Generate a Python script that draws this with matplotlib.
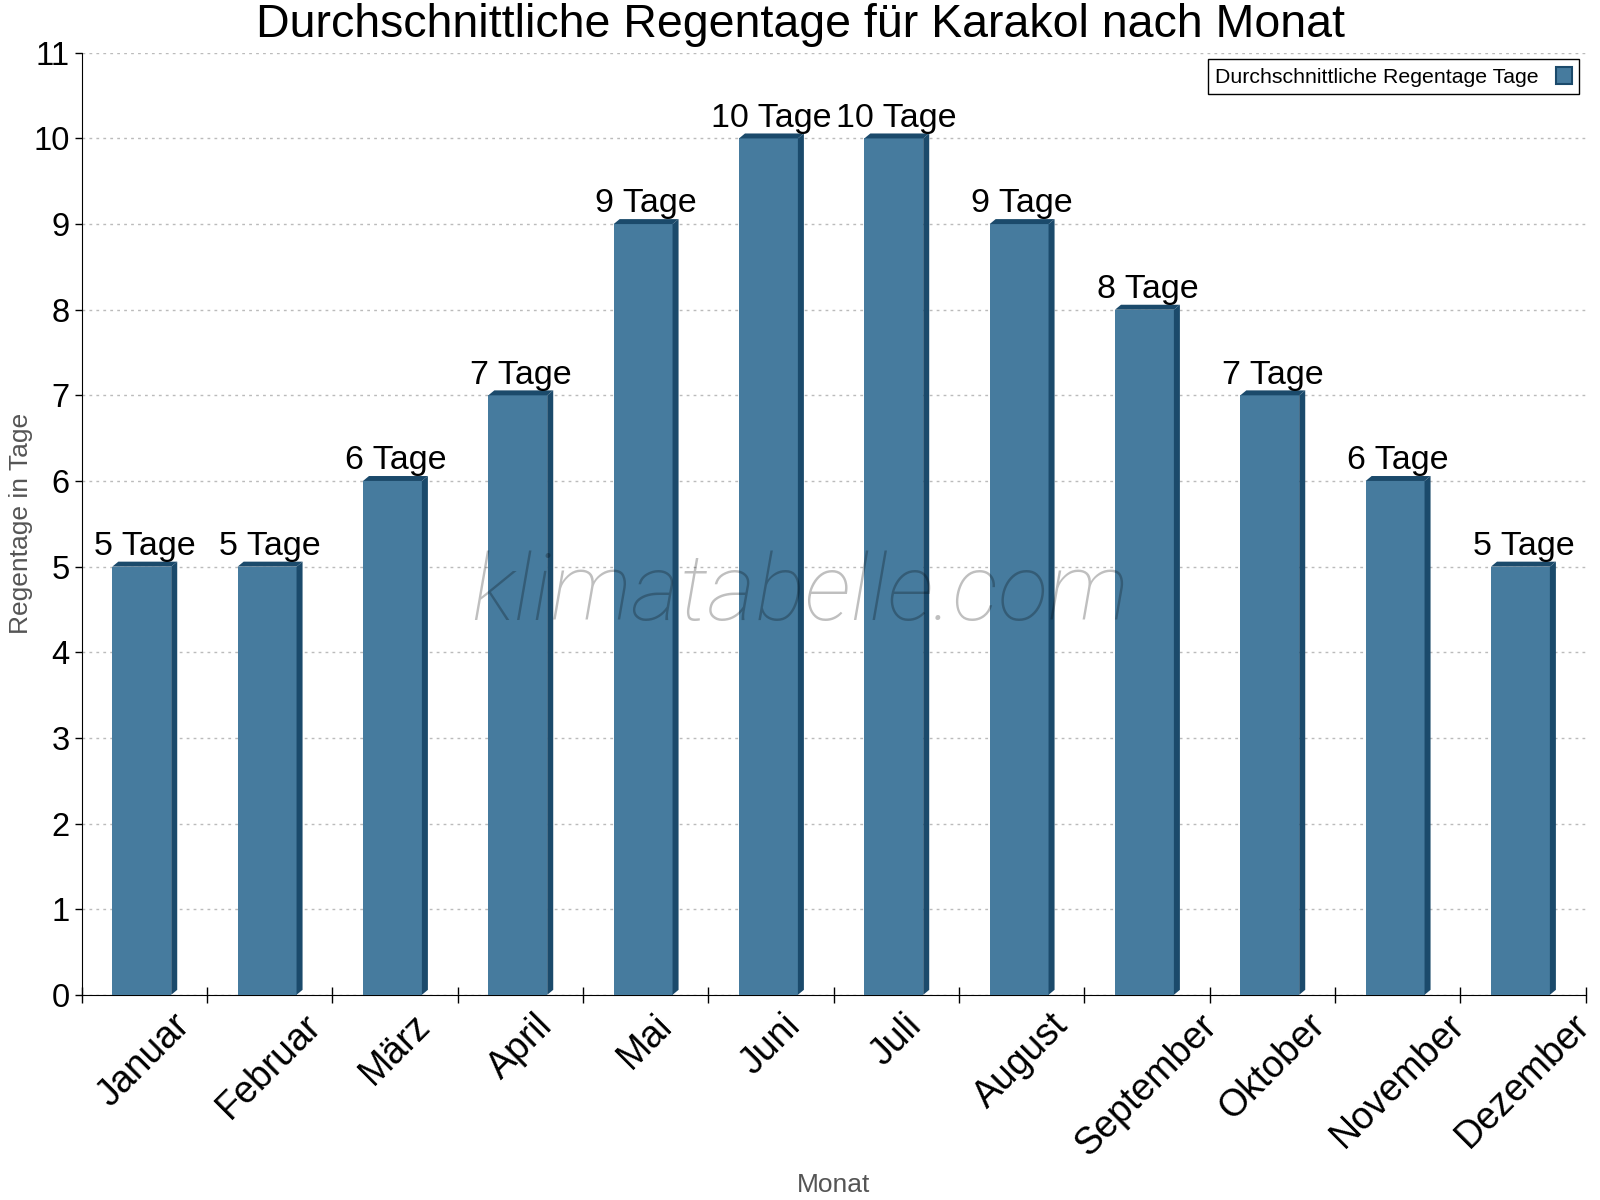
import matplotlib.pyplot as plt
from matplotlib.patches import Polygon

# Regentage pro Monat (Karakol)
monate = ["Januar", "Februar", "März", "April", "Mai", "Juni", "Juli",
          "August", "September", "Oktober", "November", "Dezember"]
regentage = [5, 5, 6, 7, 9, 10, 10, 9, 8, 7, 6, 5]

vorne = "#467b9e"
seite = "#1b4a6b"

plt.rcParams['font.family'] = ['Liberation Sans', 'DejaVu Sans']

fig = plt.figure(figsize=(16, 12), dpi=100)
ax = fig.add_axes([0.051, 0.171, 0.940, 0.785])

breite = 0.47
dx, dy = 0.048, 0.058
x = [i - 0.02 for i in range(len(monate))]

ax.bar(x, regentage, width=breite, color=vorne, zorder=3,
       label="Durchschnittliche Regentage Tage")
for xi, v in zip(x, regentage):
    r = xi + breite / 2
    l = xi - breite / 2
    ax.add_patch(Polygon([(r, 0), (r, v), (r + dx, v + dy), (r + dx, dy)],
                         closed=True, facecolor=seite, edgecolor='none', zorder=3))
    ax.add_patch(Polygon([(l, v), (r, v), (r + dx, v + dy), (l + dx, v + dy)],
                         closed=True, facecolor=seite, edgecolor='none', zorder=3))
    ax.annotate(f"{v} Tage", (xi + dx / 2, v), xytext=(0, 8.5),
                textcoords='offset points', ha='center', va='baseline',
                fontsize=24.5, zorder=5)

ax.set_xlim(-0.5, 11.5)
ax.set_ylim(0, 11)
ax.set_yticks(range(0, 12))
ax.tick_params(axis='y', labelsize=23.5, direction='out', length=5, width=1)

ax.set_xticks([i - 0.5 for i in range(13)])
ax.set_xticklabels([])
ax.set_xticks(range(12), minor=True)
ax.set_xticklabels(monate, minor=True, rotation=45, ha='center', va='top',
                   fontsize=27)
ax.tick_params(axis='x', which='major', direction='inout', length=11, width=1)
ax.tick_params(axis='x', which='minor', length=0, pad=9)

ax.grid(axis='y', color='#bbbbbb', linestyle=(0, (2, 3)), linewidth=1, zorder=0)
ax.spines['top'].set_visible(False)
ax.spines['right'].set_visible(False)

ax.set_xlabel("Monat", fontsize=19, color='#555555')
ax.set_ylabel("Regentage in Tage", fontsize=19, color='#555555')
ax.xaxis.set_label_coords(0.5, -0.189)
ax.yaxis.set_label_coords(-0.032, 0.5)

fig.text(0.5, 0.969, "Durchschnittliche Regentage für Karakol nach Monat",
         fontsize=33.5, ha='center', va='baseline')

leg = ax.legend(loc='upper right', fontsize=15.3, markerfirst=False,
                fancybox=False, edgecolor='black', framealpha=1,
                handlelength=0.75, handleheight=0.9, handletextpad=0.8,
                borderpad=0.35, borderaxespad=0.3,
                bbox_to_anchor=(1.0, 1.0))
leg.get_frame().set_linewidth(1)
for h in leg.legend_handles:
    h.set_edgecolor(seite)
    h.set_linewidth(1.5)

fig.text(0.5, 0.504, "klimatabelle.com", fontsize=67, style='italic',
         family=['Roboto', 'DejaVu Sans'], weight='light',
         color='black', alpha=0.25, ha='center', va='center', zorder=10)

fig.savefig("out.png", dpi=100)
